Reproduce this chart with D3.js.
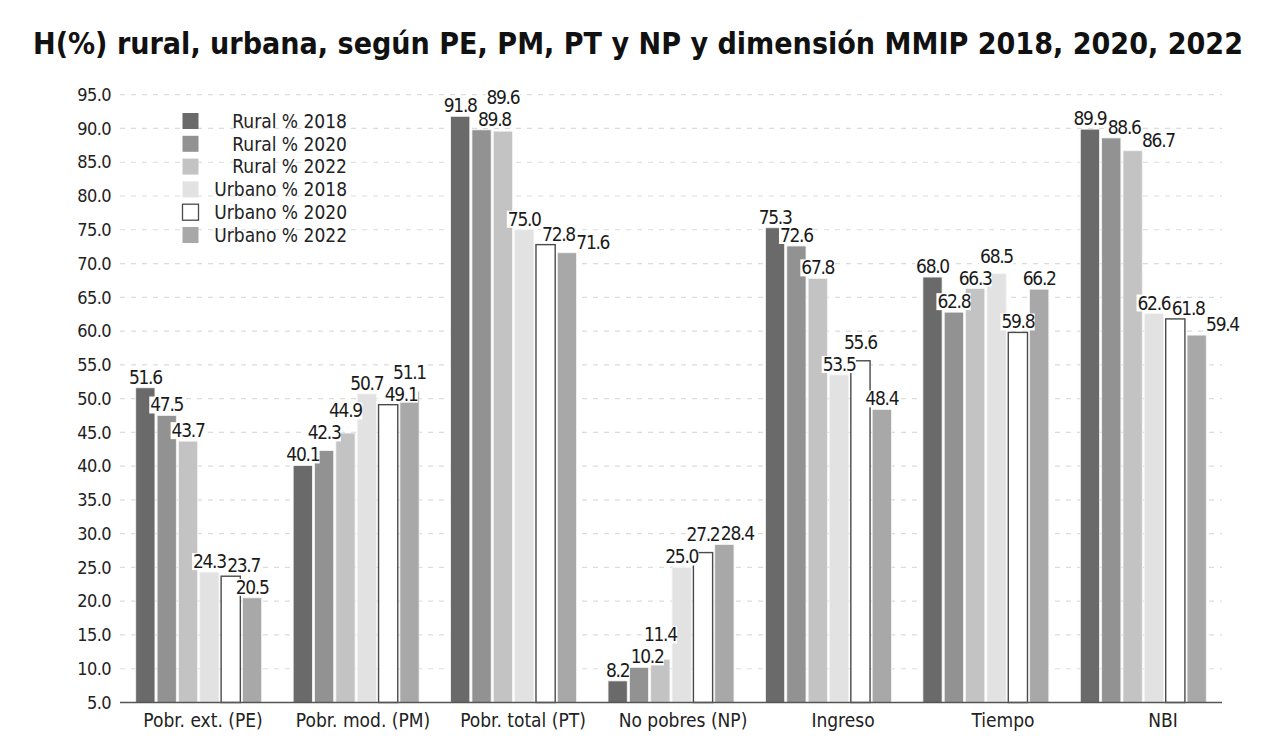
<!DOCTYPE html>
<html>
<head>
<meta charset="utf-8">
<script src="https://cdn.jsdelivr.net/npm/d3@7"></script>
<style>
    body { margin: 0; background: #fff; }
    svg { display: block; }
</style>
</head>
<body>
<div id="chart"></div>
<script>
// categories and series
const categories = ["Pobr. ext. (PE)", "Pobr. mod. (PM)", "Pobr. total (PT)", "No pobres (NP)", "Ingreso", "Tiempo", "NBI"];
const seriesNames = ["Rural % 2018", "Rural % 2020", "Rural % 2022", "Urbano % 2018", "Urbano % 2020", "Urbano % 2022"];
const rural2018 = [51.6, 40.1, 91.8, 8.2, 75.3, 68.0, 89.9];
const rural2020 = [47.5, 42.3, 89.8, 10.2, 72.6, 62.8, 88.6];
const rural2022 = [43.7, 44.9, 89.6, 11.4, 67.8, 66.3, 86.7];
const urbano2018 = [24.3, 50.7, 75.0, 25.0, 53.5, 68.5, 62.6];
const urbano2020 = [23.7, 49.1, 72.8, 27.2, 55.6, 59.8, 61.8];
const urbano2022 = [20.5, 51.1, 71.6, 28.4, 48.4, 66.2, 59.4];
const yTickValues = [5, 10, 15, 20, 25, 30, 35, 40, 45, 50, 55, 60, 65, 70, 75, 80, 85, 90, 95];

function groupedbarchart() {
    let width = 1280,
        height = 741,
        plot = { left: 120, right: 1222, top: 94.7, bottom: 702.5 },
        textFont = "'DejaVu Sans Condensed', 'DejaVu Sans', sans-serif",
        fills = ["#6a6a6a", "#929292", "#c3c3c3", "#e2e2e2", "#ffffff", "#a8a8a8"],
        labelH = 18,
        upGap = 22;

    let series = [rural2018, rural2020, rural2022, urbano2018, urbano2020, urbano2022];

    // one record per category, keyed by series name
    let bar_data = categories.map(function (c, i) {
        return {
            category: c,
            values: seriesNames.map(function (s, j) {
                return { key: s, value: series[j][i], idx: j };
            })
        };
    });

    let svg = d3.select("#chart")
        .append("svg")
        .attr("width", width)
        .attr("height", height)
        .style("font-family", textFont);

    // The scale spacing the groups
    let x0 = d3.scaleBand()
        .domain(categories)
        .range([plot.left, plot.right])
        .paddingInner(0.2)
        .paddingOuter(0.1);

    // The scale for spacing each group's bar
    let x1 = d3.scaleBand()
        .domain(seriesNames)
        .range([0, x0.bandwidth()])
        .paddingInner(0.1);

    // category labels sit a little right of the groups in the original
    let xLabel = d3.scaleBand()
        .domain(categories)
        .range([123, 1243]);

    let y = d3.scaleLinear()
        .domain([5, 95])
        .range([plot.bottom, plot.top]);

    let z = d3.scaleOrdinal()
        .domain(seriesNames)
        .range(fills);

    // dashed grid
    svg.append("g")
        .selectAll("line")
        .data(yTickValues.filter(function (d) { return d > 5; }))
        .enter().append("line")
        .attr("x1", plot.left)
        .attr("x2", plot.right)
        .attr("y1", function (d) { return y(d); })
        .attr("y2", function (d) { return y(d); })
        .attr("stroke", "#dcdcdc")
        .attr("stroke-width", 1.2)
        .attr("stroke-dasharray", "5,6");

    // y axis labels
    let y_axis = d3.axisLeft(y)
        .tickValues(yTickValues)
        .tickFormat(d3.format(".1f"))
        .tickSize(0)
        .tickPadding(9);

    svg.append("g")
        .attr("transform", "translate(" + plot.left + ",0)")
        .call(y_axis)
        .call(function (g) { g.select(".domain").remove(); })
        .selectAll("text")
        .attr("font-family", textFont)
        .attr("font-size", "18px")
        .attr("fill", "#222")
        .attr("letter-spacing", "-0.6px");

    // bars
    let groups = svg.append("g")
        .selectAll("g")
        .data(bar_data)
        .enter().append("g")
        .attr("transform", function (d) {
            return "translate(" + x0(d.category) + ",0)";
        });

    groups.selectAll("rect")
        .data(function (d) { return d.values; })
        .enter().append("rect")
        .attr("x", function (d) { return x1(d.key); })
        .attr("y", function (d) { return y(d.value); })
        .attr("width", x1.bandwidth())
        .attr("height", function (d) { return plot.bottom - y(d.value); })
        .attr("fill", function (d) { return z(d.key); })
        .attr("stroke", function (d) { return d.idx == 4 ? "#4a4a4a" : "#f4f4f4"; })
        .attr("stroke-width", function (d) { return d.idx == 4 ? 1.4 : 0.8; });

    // x axis line
    svg.append("line")
        .attr("x1", plot.left)
        .attr("x2", plot.right)
        .attr("y1", plot.bottom)
        .attr("y2", plot.bottom)
        .attr("stroke", "#555")
        .attr("stroke-width", 1.5);

    // category names
    svg.append("g")
        .selectAll("text")
        .data(categories)
        .enter().append("text")
        .attr("x", function (d) { return xLabel(d) + xLabel.bandwidth() / 2; })
        .attr("y", 727)
        .attr("text-anchor", "middle")
        .attr("font-size", "19px")
        .attr("fill", "#222")
        .text(function (d) { return d; });

    // value labels with a white box behind them
    let labels = groups.selectAll("g.lab")
        .data(function (d) { return d.values; })
        .enter().append("g")
        .attr("class", "lab");

    labels.append("rect").attr("fill", "#fff");

    labels.append("text")
        .attr("x", function (d) { return x1(d.key) + x1.bandwidth() / 2; })
        .attr("y", function (d) { return y(d.value) - 4; })
        .attr("text-anchor", "middle")
        .attr("font-size", "19px")
        .attr("letter-spacing", "-1.3px")
        .attr("fill", "#1a1a1a")
        .text(function (d) { return d.value.toFixed(1); });

    function hits(a, b) {
        return a.x < b.x + b.w + 1 && b.x < a.x + a.w + 1 &&
            a.y < b.y + labelH && b.y < a.y + labelH;
    }

    // move a label right or up, whichever is shorter, when it runs into an earlier one
    function nudge(box, placed, sideways) {
        let c = { x: box.x, y: box.y, w: box.w };
        for (let k = 0; k < 20; k++) {
            let p = placed.find(function (q) { return hits(c, q); });
            if (!p) break;
            if (sideways) c.x = p.x + p.w + 1;
            else c.y = p.y - upGap;
        }
        return c;
    }

    groups.each(function () {
        let placed = [];
        d3.select(this).selectAll("g.lab").each(function () {
            let g = d3.select(this),
                t = g.select("text"),
                b = t.node().getBBox(),
                baseY = +t.attr("y"),
                box = { x: b.x, y: baseY - 14, w: b.width };

            let right = nudge(box, placed, true),
                up = nudge(box, placed, false),
                best = (right.x - box.x) <= (box.y - up.y) ? right : up;

            let dx = best.x - box.x,
                dy = best.y - box.y;

            t.attr("x", +t.attr("x") + dx)
                .attr("y", baseY + dy);
            g.select("rect")
                .attr("x", b.x + dx - 1)
                .attr("y", b.y + dy + 3)
                .attr("width", b.width + 1)
                .attr("height", b.height - 5);

            placed.push(best);
        });
    });

    // legend
    let legend = svg.append("g")
        .selectAll("g")
        .data(seriesNames)
        .enter().append("g")
        .attr("transform", function (d, i) {
            return "translate(0," + (121 + i * 22.8) + ")";
        });

    legend.append("rect")
        .attr("x", 182.5)
        .attr("y", -8)
        .attr("width", 16)
        .attr("height", 16)
        .attr("fill", z)
        .attr("stroke", function (d, i) { return i == 4 ? "#4a4a4a" : "none"; })
        .attr("stroke-width", 1.3);

    legend.append("text")
        .attr("x", 347)
        .attr("y", 0)
        .attr("dy", "0.36em")
        .attr("text-anchor", "end")
        .attr("font-size", "19px")
        .attr("fill", "#222")
        .text(function (d) { return d; });

    // title
    svg.append("text")
        .attr("x", 638)
        .attr("y", 54)
        .attr("text-anchor", "middle")
        .attr("font-family", "'Liberation Sans Narrow', 'DejaVu Sans Condensed', sans-serif")
        .attr("font-weight", "bold")
        .attr("font-size", "31px")
        .attr("fill", "#111")
        .attr("textLength", 1210)
        .attr("lengthAdjust", "spacingAndGlyphs")
        .text("H(%) rural, urbana, según PE, PM, PT y NP y dimensión MMIP 2018, 2020, 2022");

    return svg;
}

groupedbarchart();
</script>
</body>
</html>
